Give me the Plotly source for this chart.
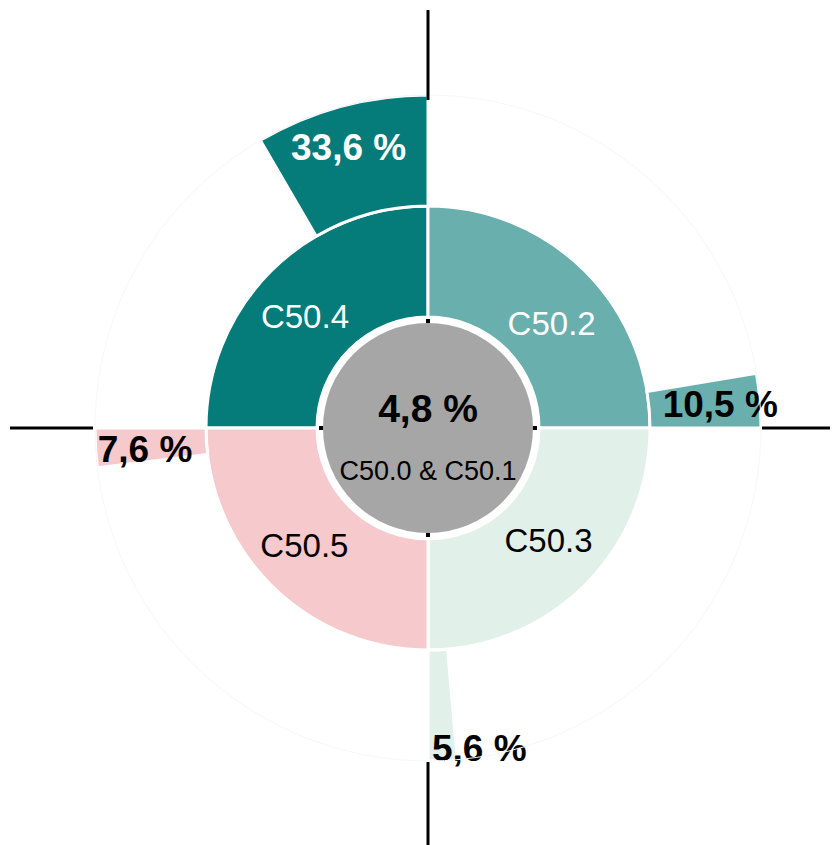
import plotly.graph_objects as go

# data
regions = ['C50.4', 'C50.2', 'C50.3', 'C50.5']
shares = [33.6, 10.5, 5.6, 7.6]
centre_label = 'C50.0 & C50.1'
centre_share = 4.8

colors = ['#057b7a', '#68afad', '#e2f0ea', '#f6c9cc']
region_text_colors = ['white', 'white', 'black', 'black']
share_text_colors = ['white', 'black', 'black', 'black']
quad_start = [90, 0, 270, 180]   # each quadrant starts here (counterclockwise)

W, H = 838, 845
OFF = 8  # page body margin
CX, CY, R = 428 - OFF, 428 - OFF, 333  # pixel centre / radius of the polar area

def fmt(v):
	return f'{v:.1f} %'.replace('.', ',')

# petal width: 90 degrees == 100 %
petal_width = [s * 0.9 for s in shares]
petal_theta = [a + w / 2 for a, w in zip(quad_start, petal_width)]

fig = go.Figure()

# grey centre disc
fig.add_trace(go.Barpolar(
	r=[105], theta=[0], width=[360], base=[0],
	marker_color='#a6a6a6', marker_line_width=0,
	hoverinfo='skip',
))

# quadrants
fig.add_trace(go.Barpolar(
	r=[111] * 4, base=[111] * 4,
	theta=[a + 45 for a in quad_start], width=[90] * 4,
	marker_color=colors, marker_line_color='white', marker_line_width=3,
	hoverinfo='skip',
))

# outer petals, angular width = share
fig.add_trace(go.Barpolar(
	r=[111] * 4, base=[222] * 4,
	theta=petal_theta, width=petal_width,
	marker_color=colors, marker_line_color='white', marker_line_width=3,
	hoverinfo='skip',
))

# small ticks at the centre disc
fig.add_trace(go.Scatterpolar(
	r=[107] * 4, theta=[0, 90, 180, 270], mode='markers',
	marker=dict(symbol='square', size=4, color='black'),
	hoverinfo='skip',
))

font = 'Liberation Sans, Arial, sans-serif'

# quadrant labels
fig.add_trace(go.Scatterpolar(
	r=[164, 160, 167, 173], theta=[138.6, 39.4, 316.2, 224.4],
	mode='text', text=regions,
	textfont=dict(family=font, size=33, color=region_text_colors),
	hoverinfo='skip',
))

# share labels
fig.add_trace(go.Scatterpolar(
	r=[288, 293, 328, 284], theta=[106, 4.0, 279.0, 184.9],
	mode='text', text=[fmt(s) for s in shares],
	textfont=dict(family=font, size=37, color=share_text_colors, weight='bold'),
	hoverinfo='skip',
))

# centre labels
fig.add_trace(go.Scatterpolar(
	r=[16, 45], theta=[90, 270], mode='text',
	text=[fmt(centre_share), centre_label],
	textfont=dict(family=font, size=[39, 27], color='black', weight=['bold', 'normal']),
	hoverinfo='skip',
))

# black cross lines outside the chart
def lx(x):
	return x / W
def ly(y):
	return 1 - y / H

for x0, y0, x1, y1 in [(CX, 10 - OFF, CX, 100 - OFF), (CX, 762 - OFF, CX, 845),
		(10 - OFF, CY, 93 - OFF, CY), (762 - OFF, CY, 838, CY)]:
	fig.add_shape(type='line', xref='paper', yref='paper',
		x0=lx(x0), y0=ly(y0), x1=lx(x1), y1=ly(y1),
		line=dict(color='black', width=3))

fig.update_layout(
	width=W,
	height=H,
	margin=dict(l=0, r=0, t=0, b=0),
	paper_bgcolor='white',
	showlegend=False,
	polar=dict(
		domain=dict(x=[lx(CX - R), lx(CX + R)], y=[ly(CY + R), ly(CY - R)]),
		bgcolor='white',
		barmode='overlay',
		radialaxis=dict(range=[0, R], visible=False),
		angularaxis=dict(
			direction='counterclockwise', rotation=0,
			showgrid=False, showticklabels=False, ticks='',
			showline=True, linecolor='#f7f7f7', linewidth=1,
		),
	),
)

fig.write_html('out.html')
